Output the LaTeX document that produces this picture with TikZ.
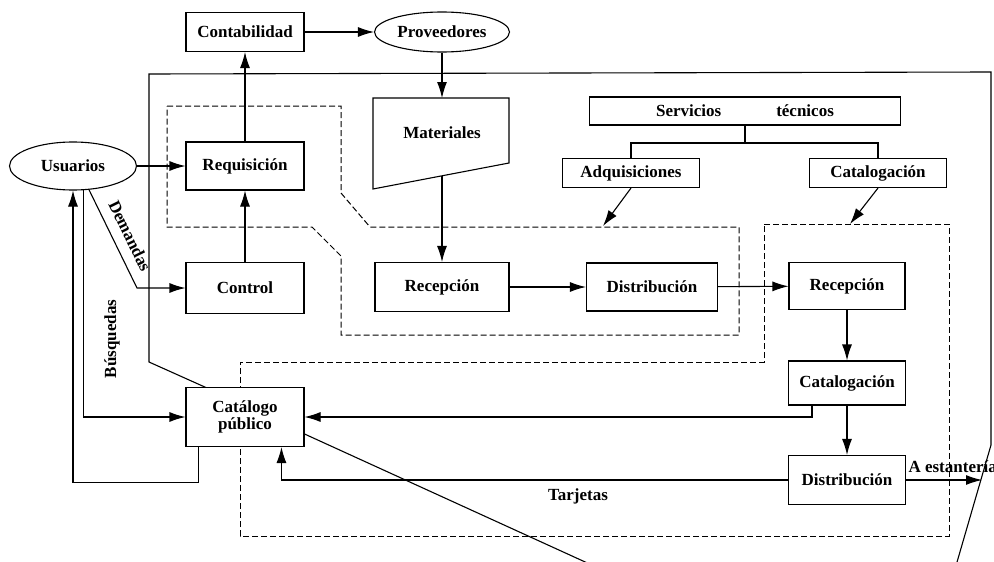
\documentclass[tikz,border=0pt]{standalone}
\usepackage{fontspec}
\setmainfont{Liberation Serif}
\usetikzlibrary{arrows.meta,shapes.geometric}

\begin{document}
\begin{tikzpicture}[x=1pt,y=-1pt,line width=1.1pt,
  every node/.style={font=\fontsize{17}{19}\selectfont\bfseries},
  box/.style={draw,fill=white,rectangle,inner sep=0pt},
  oval/.style={draw,fill=white,ellipse,inner sep=0pt},
  arr/.style={-{Latex[length=16pt,width=10pt]}},
  zone/.style={dash pattern=on 6pt off 3pt,line width=1pt},
  lbl/.style={inner sep=0pt}]

\fill[white] (0,0) rectangle (994,562);
\useasboundingbox (0,0) rectangle (994,562);

% dashed zones: acquisitions and cataloguing
\draw[zone] (167,106) -- (341,106) -- (341,193) -- (370,227) -- (739,227)
  -- (739,335) -- (341,335) -- (341,256) -- (312,227) -- (167,227) -- cycle;
\draw[zone] (764,224) -- (949,224) -- (949,536) -- (240,536) -- (240,362)
  -- (764,362) -- cycle;

% library boundary
\draw (207,388) -- (149,362) -- (149,74) -- (991,72) -- (991,445) -- (946,600);

% materials input shape
\draw[fill=white] (373,98) -- (509,98) -- (509,163) -- (373,189) -- cycle;
\node[lbl] (mat) at (442,133) {Materiales};
\coordinate (matTop) at (442,98);
\coordinate (matBot) at (442,176);

% nodes
\node[box,minimum width=118pt,minimum height=39pt] (conta) at (245,32) {Contabilidad};
\node[oval,minimum width=135pt,minimum height=40pt] (prov) at (442,32) {Proveedores};
\node[oval,minimum width=127pt,minimum height=48pt] (usu) at (73,166) {Usuarios};
\node[box,minimum width=118pt,minimum height=48pt] (req) at (245,166) {Requisición};
\node[box,minimum width=118pt,minimum height=51pt] (ctrl) at (245,288) {Control};
\node[box,minimum width=118pt,minimum height=59pt,align=center] (catp) at (245,417)
  {Catálogo\\[-2pt]público};
\node[box,minimum width=134pt,minimum height=49pt] (recA) at (442,287) {Recepción};
\node[box,minimum width=131pt,minimum height=48pt] (distA) at (652,287) {Distribución};
\node[box,minimum width=116pt,minimum height=47pt] (recC) at (847,286) {Recepción};
\node[box,minimum width=117pt,minimum height=44pt] (catC) at (847,383) {Catalogación};
\node[box,minimum width=117pt,minimum height=49pt] (distC) at (847,480) {Distribución};
\node[box,minimum width=311pt,minimum height=28pt] (serv) at (745,111)
  {Servicios\hspace{55pt}técnicos};
\node[box,minimum width=137pt,minimum height=29pt] (adq) at (631,173) {Adquisiciones};
\node[box,minimum width=137pt,minimum height=29pt] (catT) at (878,173) {Catalogación};

% lower boundary edge from the public catalogue
\draw ([yshift=-17pt]catp.east) -- (640,587);

% technical services tree
\coordinate (fork) at (745,143);
\draw (serv.south) -- (fork);
\draw (adq.north) |- (fork) -| (catT.north);
\coordinate (zoneA) at (603,226);
\coordinate (zoneC) at (850,224);
\draw[arr] (adq.south) -- (zoneA);
\draw[arr] (catT.south) -- (zoneC);

% flows
\draw[arr] (conta) -- (prov);
\draw[arr] (prov) -- (matTop);
\draw[arr] (matBot) -- (recA);
\draw[arr] (recA) -- (distA);
\draw[arr] (distA) -- (recC);
\draw[arr] (recC) -- (catC);
\draw[arr] (catC) -- (distC);
\draw[arr] (usu) -- (req);
\draw[arr] (req) -- (conta);
\draw[arr] (ctrl) -- (req);

\coordinate (dk) at (137,288);
\draw[arr] (usu.-56) -- (dk) -- (ctrl.west);
\node[lbl,rotate=-64] at (130,236) {Demandas};

\draw[arr] (usu.-67) |- (catp.west);
\node[lbl,rotate=90] at (112,339) {Búsquedas};

\draw[arr] ([xshift=13pt]catp.south west) -- ++(0,35) -| (usu.south);

\draw[arr] ([xshift=24pt]catC.south west) |- (catp.east);
\draw[arr] (distC.west) -| ([xshift=96pt]catp.south west);
\node[lbl] at (578,496) {Tarjetas};

\coordinate (shelf) at (982,480);
\draw[arr] (distC.east) -- (shelf);
\node[lbl,anchor=base west] at (908,472) {A estantería};

\end{tikzpicture}
\end{document}
